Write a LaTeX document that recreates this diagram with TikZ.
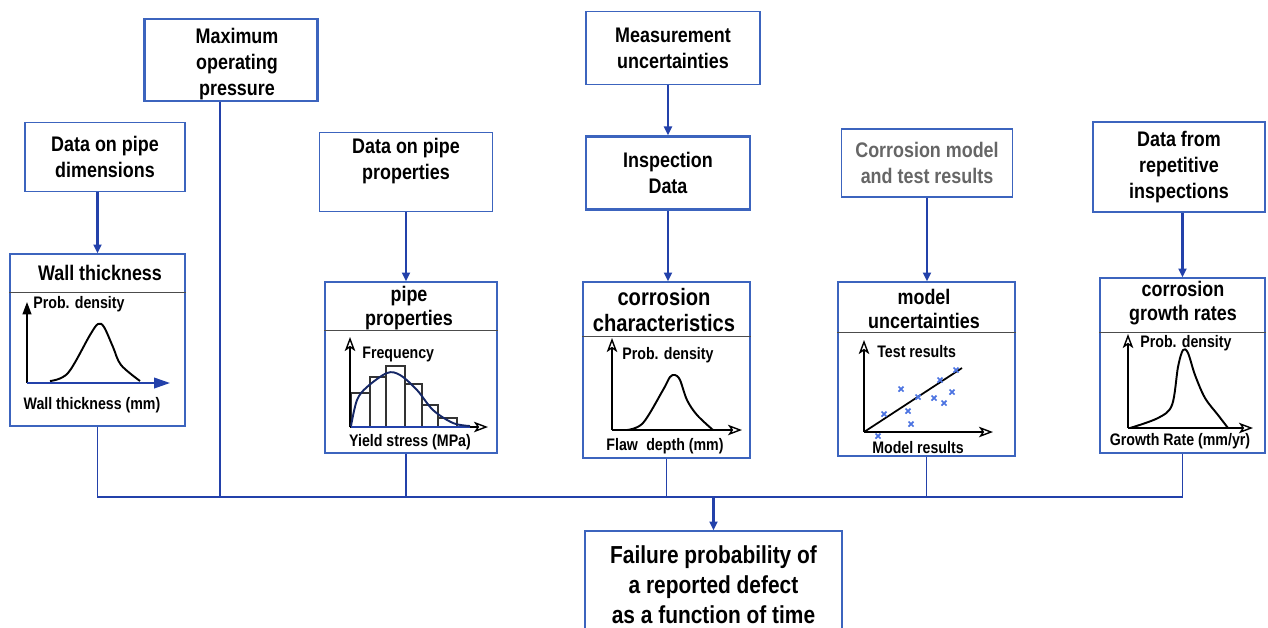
\documentclass[tikz,border=0pt]{standalone}
\usepackage{fontspec}
\setmainfont{Liberation Sans}[FakeStretch=0.85]
\usepackage{tikz}
\usetikzlibrary{arrows.meta}
\usetikzlibrary{calc}

\definecolor{linkblue}{RGB}{35,65,170}
\definecolor{boxblue}{RGB}{60,100,190}
\definecolor{markblue}{RGB}{75,115,225}

\tikzset{
  sz/.style 2 args={minimum width=#1*0.02cm, minimum height=#2*0.02cm},
  srcbox/.style={draw=boxblue, line width=0.75pt, inner sep=0pt, align=center,
    font=\bfseries\fontsize{12}{14.7}\selectfont},
  keybox/.style={srcbox, line width=1.4pt},
  plotbox/.style={draw=boxblue, line width=0.75pt, inner sep=0pt},
  head/.style={align=center, inner sep=0pt, font=\bfseries\fontsize{12}{14}\selectfont},
  hline/.style={draw=black!70, line width=0.75pt},
  lbl/.style={inner sep=0pt, font=\bfseries\fontsize{9.5}{11}\selectfont},
  link/.style={draw=linkblue, line width=1.25pt, -{Triangle[length=5pt,width=4.5pt]}},
  bus/.style={draw=linkblue, line width=0.9pt},
  axis/.style={line width=0.8pt, -{Stealth[open,length=8pt,width=6pt,inset=2pt]}},
  curve/.style={line width=1.1pt, line join=round, smooth, tension=0.55},
  bar/.style={draw=black!80, line width=0.6pt},
  xmark/.style={draw=markblue, line width=1pt}
}

\begin{document}
\begin{tikzpicture}[x=0.02cm, y=-0.02cm]

  \useasboundingbox (0,0) rectangle (1268,627);
  \clip (0,0) rectangle (1268,627);

  % input boxes
  \node[srcbox, sz={160}{69}] (dims) at (105,157) {Data on pipe\\dimensions};
  \node[keybox, sz={173}{82}] (maxp) at (231,60) {};
  \node[align=center, inner sep=0pt, font=\bfseries\fontsize{12}{14.7}\selectfont] (maxpt) at (237,64) {Maximum\\operating\\pressure};
  \node[srcbox, sz={174}{73}] (meas) at (673,48) {Measurement\\uncertainties};
  \node[srcbox, sz={173}{79}] (props) at (406,172) {Data on pipe\\properties\\\mbox{}};
  \node[keybox, sz={164}{73}] (insp) at (668,173) {Inspection\\Data};
  \node[srcbox, sz={171}{68}, text=black!60] (cmodel) at (927,163) {Corrosion model\\and test results};
  \node[keybox, sz={172}{90}] (rep) at (1179,167) {Data from\\repetitive\\inspections};

  % result box
  \node[srcbox, sz={257}{108}, font=\bfseries\fontsize{14}{17}\selectfont] (fail) at (713.5,585)
    {Failure probability of\\a reported defect\\as a function of time};

  % boxes with plots
  \node[plotbox, sz={175}{172}] (wall) at (97.5,340) {};
  \node[plotbox, sz={172}{171}] (pprop) at (411,367.5) {};
  \node[plotbox, sz={167}{176}] (corr) at (666.5,370) {};
  \node[plotbox, sz={177}{174}] (model) at (926.5,369) {};
  \node[plotbox, sz={165}{175}] (growth) at (1182.5,365.5) {};

  % header lines
  \draw[hline] ($(wall.north west)+(0,39)$) -- ($(wall.north east)+(0,39)$);
  \draw[hline] ($(pprop.north west)+(0,49)$) -- ($(pprop.north east)+(0,49)$);
  \draw[hline] ($(corr.north west)+(0,55)$) -- ($(corr.north east)+(0,55)$);
  \draw[hline] ($(model.north west)+(0,51)$) -- ($(model.north east)+(0,51)$);
  \draw[hline] ($(growth.north west)+(0,55)$) -- ($(growth.north east)+(0,55)$);

  % headers
  \node[head] (wallh) at (100,273) {Wall thickness};
  \node[head] (pproph) at (409,308) {pipe\\properties};
  \node[head, font=\bfseries\fontsize{13.5}{14.5}\selectfont] (corrh) at (664,310) {corrosion\\characteristics};
  \node[head] (modelh) at (924,309) {model\\uncertainties};
  \node[head] (growthh) at (1183,303) {corrosion\\growth rates};

  % input arrows
  \draw[link] (wall.north |- dims.south) -- (wall.north);
  \draw[link] (props.south) -- (props.south |- pprop.north);
  \draw[link] (insp.north |- meas.south) -- (insp.north);
  \draw[link] (insp.south) -- (insp.south |- corr.north);
  \draw[link] (cmodel.south) -- (cmodel.south |- model.north);
  \draw[link] (growth.north |- rep.south) -- (growth.north);

  % collecting line
  \coordinate (bus) at (0,497);
  \coordinate (mpd) at ($(maxp.south)+(-11,0)$);
  \draw[bus] (wall.south) -- (wall.south |- bus) -- (growth.south |- bus) -- (growth.south);
  \draw[bus] (mpd) -- (mpd |- bus);
  \draw[bus] (pprop.south -| props.south) -- (props.south |- bus);
  \draw[bus] (corr.south) -- (corr.south |- bus);
  \draw[bus] (model.south) -- (model.south |- bus);
  \draw[link] (fail.north |- bus) -- (fail.north);

  % wall thickness plot
  \draw[line width=0.9pt, -{Triangle[length=7pt,width=5pt]}] (27,383) -- (27,302);
  \draw[draw=linkblue, line width=1pt, -{Triangle[length=9pt,width=6pt]}] (27,383) -- (170,383);
  \draw[curve] plot coordinates {(50,381) (68,373) (90,335) (98,324) (104,327) (113,347) (121,365) (140,381)};
  \node[lbl, anchor=west] (wally) at (33,304) {Prob. density};
  \node[lbl] (wallx) at (92,405) {Wall thickness (mm)};

  % yield stress histogram
  \foreach \xa/\xb/\h in {351/370/393, 370/386/377, 386/405/366, 405/422/384, 422/438/405, 438/457/418}
    \draw[bar] (\xa,427) rectangle (\xb,\h);
  \draw[axis] (350,427) -- (350,337);
  \draw[axis] (350,427) -- (488,427);
  \draw[draw=linkblue, line width=1.2pt] (351,427) -- (470,427);
  \draw[curve, draw=linkblue!60!black] plot coordinates {(351,426) (357,400) (367,387) (387,373) (400,375) (417,390) (433,410) (453,423) (470,426)};
  \node[lbl, anchor=west] (ppropy) at (362,354) {Frequency};
  \node[lbl] (ppropx) at (410,442) {Yield stress (MPa)};

  % flaw depth plot
  \draw[axis] (612,430) -- (612,338);
  \draw[axis] (612,430) -- (742,430);
  \draw[curve] plot coordinates {(627,430) (643,423) (663,390) (670,377) (675,375) (680,380) (687,400) (697,415) (713,430)};
  \node[lbl, anchor=west] (corry) at (622,355) {Prob. density};
  \node[lbl] (corrx) at (665,446) {Flaw\enspace depth (mm)};

  % model results plot
  \draw[axis] (864,432) -- (864,340);
  \draw[axis] (864,432) -- (993,432);
  \draw[line width=1pt] (864,432) -- (962,368);
  \foreach \x/\y in {878/436, 884/414, 901/389, 908/411, 911/424, 918/397, 934/398, 940/380, 944/403, 952/392, 956/370}
    \draw[xmark] (\x-2.5,\y-2.5) -- (\x+2.5,\y+2.5) (\x-2.5,\y+2.5) -- (\x+2.5,\y-2.5);
  \node[lbl, anchor=west] (modely) at (877,352) {Test results};
  \node[lbl] (modelx) at (918,448) {Model results};

  % growth rate plot
  \draw[axis] (1128,428) -- (1128,334);
  \draw[axis] (1128,428) -- (1253,428);
  \draw[curve] plot coordinates {(1130,428) (1158,418) (1172,405) (1178,367) (1183,350) (1188,353) (1195,375) (1205,398) (1218,415) (1228,428)};
  \node[lbl, anchor=west] (growthy) at (1140,343) {Prob. density};
  \node[lbl] (growthx) at (1180,441) {Growth Rate (mm/yr)};

\end{tikzpicture}
\end{document}
